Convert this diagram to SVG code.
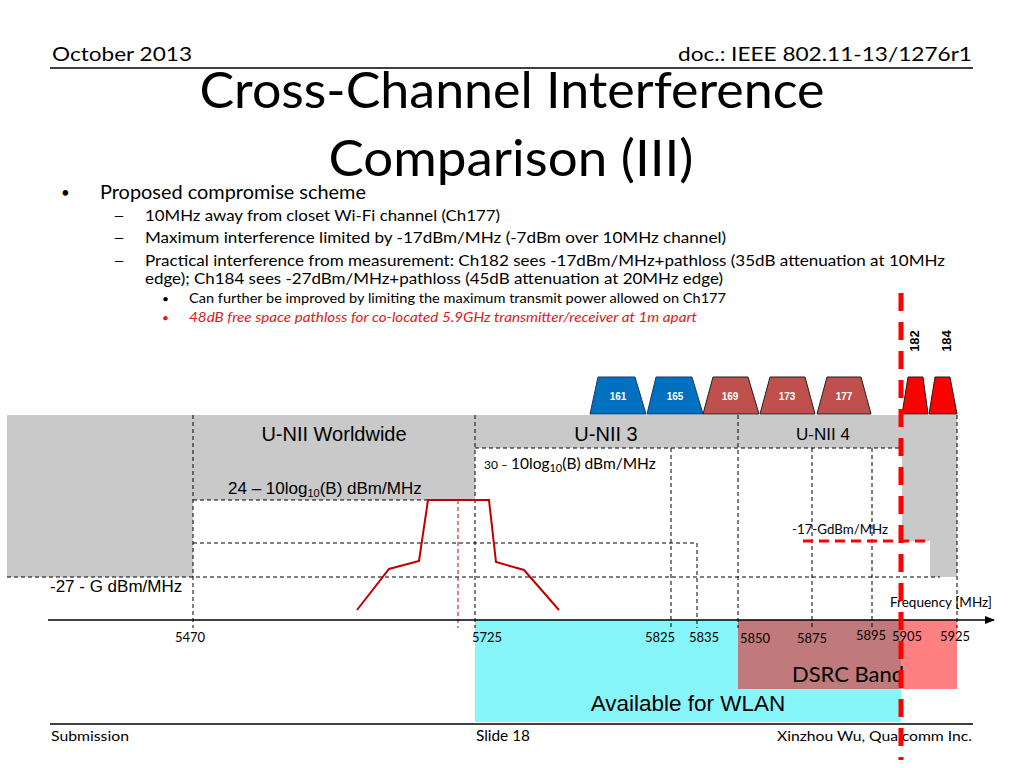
<svg xmlns="http://www.w3.org/2000/svg" width="1024" height="768" viewBox="0 0 1024 768">
<defs>
<marker id="arr" markerWidth="10" markerHeight="8" refX="9" refY="4" orient="auto" markerUnits="userSpaceOnUse"><path d="M0,0 L10,4 L0,8 Z" fill="#000"/></marker>
<style>
.cal{font-family:Lato,"Open Sans","Liberation Sans",sans-serif;fill:#000}
.ari{font-family:"Liberation Sans",Arial,sans-serif;fill:#000}
.dash{stroke:#000;stroke-width:1;stroke-dasharray:4 3;fill:none}
.blue{fill:#0070C0;stroke:#1F3864;stroke-width:1}
.brick{fill:#C0504D;stroke:#1F1F1F;stroke-width:1}
.red{fill:#FF0000;stroke:#1F1F1F;stroke-width:1}
.chl{font-family:"Liberation Sans",Arial,sans-serif;font-weight:bold;font-size:10px;fill:#fff;text-anchor:middle}
</style>
</defs>
<rect width="1024" height="768" fill="#fff"/>
<g id="header">
<text class="cal" x="52" y="61" font-size="20" textLength="140" lengthAdjust="spacingAndGlyphs">October 2013</text>
<text class="cal" x="972" y="61" font-size="20" text-anchor="end" textLength="294" lengthAdjust="spacingAndGlyphs">doc.: IEEE 802.11-13/1276r1</text>
<line x1="50" y1="68" x2="973" y2="68" stroke="#000" stroke-width="1.5"/>
</g>
<g id="title">
<text class="cal" x="512" y="108" font-size="50" text-anchor="middle" textLength="625" lengthAdjust="spacingAndGlyphs">Cross-Channel Interference</text>
<text class="cal" x="511" y="176" font-size="50" text-anchor="middle" textLength="365" lengthAdjust="spacingAndGlyphs">Comparison (III)</text>
</g>
<g id="bullets">
<text class="cal" x="61" y="198" font-size="15">•</text>
<text class="cal" x="100" y="199" font-size="19" textLength="266" lengthAdjust="spacingAndGlyphs">Proposed compromise scheme</text>
<text class="cal" x="113" y="221" font-size="16" textLength="12" lengthAdjust="spacingAndGlyphs">–</text>
<text class="cal" x="145" y="221" font-size="16" textLength="355" lengthAdjust="spacingAndGlyphs">10MHz away from closet Wi-Fi channel (Ch177)</text>
<text class="cal" x="113" y="243" font-size="16" textLength="12" lengthAdjust="spacingAndGlyphs">–</text>
<text class="cal" x="145" y="243" font-size="16" textLength="581" lengthAdjust="spacingAndGlyphs">Maximum interference limited by -17dBm/MHz (-7dBm over 10MHz channel)</text>
<text class="cal" x="113" y="266" font-size="16" textLength="12" lengthAdjust="spacingAndGlyphs">–</text>
<text class="cal" x="145" y="266" font-size="16" textLength="800" lengthAdjust="spacingAndGlyphs">Practical interference from measurement: Ch182 sees -17dBm/MHz+pathloss (35dB attenuation at 10MHz</text>
<text class="cal" x="145" y="284" font-size="16" textLength="578" lengthAdjust="spacingAndGlyphs">edge); Ch184 sees -27dBm/MHz+pathloss (45dB attenuation at 20MHz edge)</text>
<text class="cal" x="162" y="303" font-size="12">•</text>
<text class="cal" x="189" y="303" font-size="13" textLength="537" lengthAdjust="spacingAndGlyphs">Can further be improved by limiting the maximum transmit power allowed on Ch177</text>
<text class="cal" x="162" y="322" font-size="12" style="fill:#E8141C">•</text>
<text class="cal" x="189" y="322" font-size="13" font-style="italic" style="fill:#E8141C" textLength="508" lengthAdjust="spacingAndGlyphs">48dB free space pathloss for co-located 5.9GHz transmitter/receiver at 1m apart</text>
</g>
<g id="band-background">
<path d="M7,415 H957 V577 H930 V541 H902 V448 H475 V500 H193 V577 H7 Z" fill="#C9C9C9"/>
</g>
<g id="wlan-band">
<rect x="475" y="620" width="426" height="102" fill="#86F6FA"/>
<text class="ari" x="688" y="711" font-size="22.5" text-anchor="middle">Available for WLAN</text>
</g>
<g id="dsrc-band">
<rect x="738" y="620" width="163" height="69" fill="#C07A7B"/>
<rect x="901" y="620" width="56" height="69" fill="#FF8080"/>
<text class="cal" x="848" y="682" font-size="21" text-anchor="middle" textLength="112" lengthAdjust="spacingAndGlyphs">DSRC Band</text>
</g>
<g id="connectors">
<line class="dash" x1="193" y1="415" x2="193" y2="628"/>
<line class="dash" x1="475" y1="415" x2="475" y2="628"/>
<line class="dash" x1="671" y1="448" x2="671" y2="628"/>
<line class="dash" x1="697" y1="543" x2="697" y2="628"/>
<line class="dash" x1="738" y1="415" x2="738" y2="628"/>
<line class="dash" x1="812" y1="448" x2="812" y2="628"/>
<line class="dash" x1="872" y1="448" x2="872" y2="628"/>
<line class="dash" x1="957" y1="415" x2="957" y2="628"/>
<line class="dash" x1="475" y1="448" x2="900" y2="448"/>
<line class="dash" x1="193" y1="500" x2="475" y2="500"/>
<line class="dash" x1="193" y1="543" x2="697" y2="543"/>
<line class="dash" x1="7" y1="577" x2="940" y2="577"/>
<line x1="458" y1="500" x2="458" y2="628" stroke="#C00000" stroke-width="1" stroke-dasharray="4 3"/>
<line x1="48" y1="620" x2="994" y2="620" stroke="#000" stroke-width="1.5" marker-end="url(#arr)"/>
<polyline points="357,610 389,569 419,561 428,500 489,500 496,562 524,570 559,610" fill="none" stroke="#C00000" stroke-width="2"/>
<line x1="803" y1="541" x2="928" y2="541" stroke="#FF0000" stroke-width="3" stroke-dasharray="10 6"/>
</g>
<g id="band-labels">
<text class="ari" x="334" y="441" font-size="20" text-anchor="middle">U-NII Worldwide</text>
<text class="ari" x="606" y="441" font-size="20" text-anchor="middle">U-NII 3</text>
<text class="ari" x="823" y="440" font-size="17" text-anchor="middle">U-NII 4</text>
<text class="ari" x="228" y="494" font-size="17">24 – 10log<tspan font-size="11" dy="3">10</tspan><tspan dy="-3">(B) dBm/MHz</tspan></text>
<text class="cal" x="484" y="469" font-size="12">30 – <tspan font-size="15.5">10log</tspan><tspan font-size="11" dy="3">10</tspan><tspan font-size="15.5" dy="-3">(B) dBm/MHz</tspan></text>
<text class="ari" x="50" y="592" font-size="17">-27 - G dBm/MHz</text>
<text class="cal" x="792" y="534" font-size="12.5" textLength="96" lengthAdjust="spacingAndGlyphs">-17-GdBm/MHz</text>
<text class="cal" x="890" y="607" font-size="12.5" textLength="102" lengthAdjust="spacingAndGlyphs">Frequency [MHz]</text>
</g>
<g id="ticks" font-size="13">
<text class="cal" x="190" y="642" text-anchor="middle">5470</text>
<text class="cal" x="487" y="642" text-anchor="middle">5725</text>
<text class="cal" x="660" y="642" text-anchor="middle">5825</text>
<text class="cal" x="704" y="642" text-anchor="middle">5835</text>
<text class="cal" x="755" y="643" text-anchor="middle">5850</text>
<text class="cal" x="812" y="643" text-anchor="middle">5875</text>
<text class="cal" x="871" y="640" text-anchor="middle">5895</text>
<text class="cal" x="907" y="641" text-anchor="middle">5905</text>
<text class="cal" x="955" y="641" text-anchor="middle">5925</text>
</g>
<g id="ch161"><polygon class="blue" points="590,414 598,377 635,377 646,414"/><text class="chl" x="618" y="400">161</text></g>
<g id="ch165"><polygon class="blue" points="647,414 656,377 692,377 703,414"/><text class="chl" x="675" y="400">165</text></g>
<g id="ch169"><polygon class="brick" points="703,414 713,377 748,377 759,414"/><text class="chl" x="730" y="400">169</text></g>
<g id="ch173"><polygon class="brick" points="760,414 770,377 805,377 815,414"/><text class="chl" x="787" y="400">173</text></g>
<g id="ch177"><polygon class="brick" points="817,414 827,377 861,377 871,414"/><text class="chl" x="844" y="400">177</text></g>
<g id="ch182"><polygon class="red" points="902,414 908,377 923,377 928,414"/><text x="919" y="341" font-family="Liberation Sans,Arial,sans-serif" font-weight="bold" font-size="13" text-anchor="middle" transform="rotate(-90 919 341)">182</text></g>
<g id="ch184"><polygon class="red" points="929,414 935,377 950,377 957,414"/><text x="951" y="341" font-family="Liberation Sans,Arial,sans-serif" font-weight="bold" font-size="13" text-anchor="middle" transform="rotate(-90 951 341)">184</text></g>
<g id="footer">
<line x1="50" y1="724" x2="973" y2="724" stroke="#000" stroke-width="1.5"/>
<text class="cal" x="51" y="741" font-size="14" textLength="78" lengthAdjust="spacingAndGlyphs">Submission</text>
<text class="cal" x="476" y="741" font-size="15" textLength="54" lengthAdjust="spacingAndGlyphs">Slide 18</text>
<text class="cal" x="972" y="741" font-size="14" text-anchor="end" textLength="195" lengthAdjust="spacingAndGlyphs">Xinzhou Wu, Qualcomm Inc.</text>
</g>
<g id="dsrc-boundary">
<line x1="901" y1="293" x2="901" y2="760" stroke="#FF0000" stroke-width="5" stroke-dasharray="18 11"/>
</g>
</svg>
